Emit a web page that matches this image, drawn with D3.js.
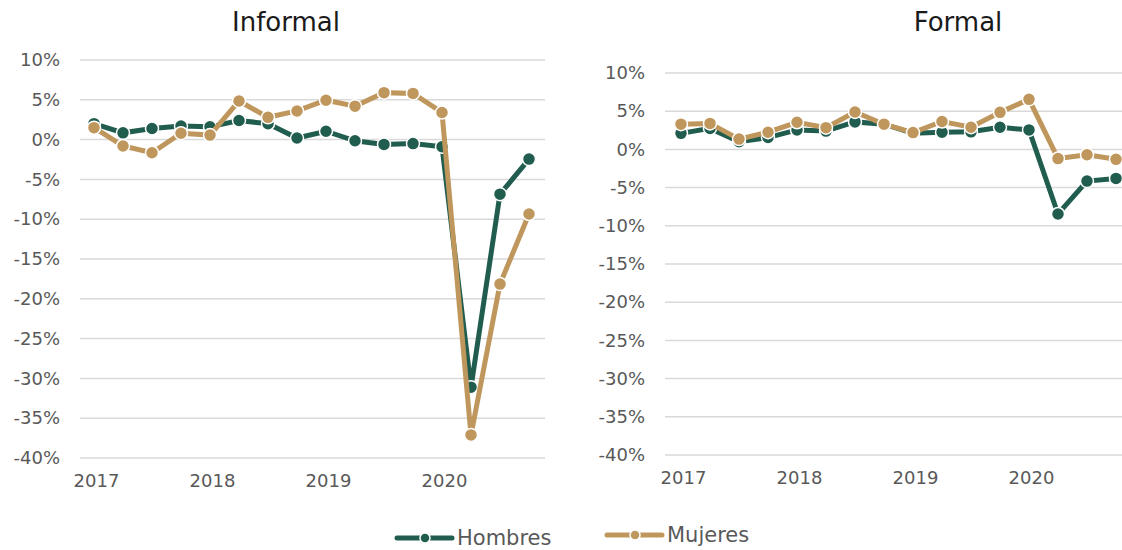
<html>
<head>
<script src="https://cdnjs.cloudflare.com/ajax/libs/d3/7.8.5/d3.min.js"></script>
<style>
  body { margin: 0; background: #fff; }
  text { font-family: "DejaVu Sans", sans-serif; }
</style>
</head>
<body>
<script>
// quarters 2017Q1 .. 2020Q4
var quarters = d3.range(16);
var yearLabels = ["2017", "2018", "2019", "2020"];
var yTicks = [10, 5, 0, -5, -10, -15, -20, -25, -30, -35, -40];
var seriesNames = ["Hombres", "Mujeres"];
var colors = ["#215d4e", "#bf975c"];

var informalHombres = [2.0, 0.85, 1.4, 1.7, 1.6, 2.4, 2.0, 0.2, 1.05, -0.15, -0.6, -0.5, -0.9, -31.1, -6.85, -2.45];
var informalMujeres = [1.5, -0.8, -1.65, 0.8, 0.57, 4.85, 2.8, 3.6, 4.95, 4.2, 5.9, 5.8, 3.4, -37.1, -18.15, -9.35];
var formalHombres = [2.1, 2.75, 1.0, 1.55, 2.55, 2.4, 3.6, 3.3, 2.1, 2.25, 2.3, 2.9, 2.55, -8.45, -4.15, -3.8];
var formalMujeres = [3.3, 3.4, 1.35, 2.25, 3.55, 2.85, 4.9, 3.3, 2.2, 3.65, 2.9, 4.85, 6.55, -1.2, -0.7, -1.3];

var svg = d3.select("body").append("svg")
  .attr("width", 1122)
  .attr("height", 550);

function panel(opts) {
  var x = d3.scaleLinear().domain([0, 15]).range([opts.x0, opts.x0 + 29 * 15]);
  var y = d3.scaleLinear().domain([-40, 10]).range([opts.yBottom, opts.yTop]);
  var g = svg.append("g");

  g.append("text")
    .attr("x", opts.titleX).attr("y", 31)
    .attr("text-anchor", "middle")
    .attr("font-size", 26)
    .attr("fill", "#1a1a1a")
    .text(opts.title);

  // gridlines
  g.selectAll(".grid").data(yTicks).enter().append("line")
    .attr("x1", opts.gridX1).attr("x2", opts.gridX2)
    .attr("y1", function(d) { return y(d); })
    .attr("y2", function(d) { return y(d); })
    .attr("stroke", "#d9d9d9")
    .attr("stroke-width", 1.5);

  // y axis labels
  var yAxis = d3.axisLeft(y).tickValues(yTicks).tickSize(0).tickPadding(0)
    .tickFormat(function(d) { return d + "%"; });
  var ya = g.append("g").attr("transform", "translate(" + opts.labelX + ",0)").call(yAxis);
  ya.select(".domain").remove();
  ya.selectAll("text").attr("font-size", 18).attr("fill", "#595959")
    .style("font-family", "'DejaVu Sans', sans-serif");

  // x axis labels
  var xAxis = d3.axisBottom(x).tickValues([0, 4, 8, 12]).tickSize(0).tickPadding(0)
    .tickFormat(function(d, i) { return yearLabels[i]; });
  var xa = g.append("g").attr("transform", "translate(2," + (opts.yBottom + 16) + ")").call(xAxis);
  xa.select(".domain").remove();
  xa.selectAll("text").attr("font-size", 18).attr("fill", "#595959")
    .style("font-family", "'DejaVu Sans', sans-serif");

  var line = d3.line()
    .x(function(d, i) { return x(i); })
    .y(function(d) { return y(d); });

  opts.series.forEach(function(s, k) {
    g.append("path")
      .attr("d", line(s))
      .attr("fill", "none")
      .attr("stroke", colors[k])
      .attr("stroke-width", 5);
    g.selectAll(".pt" + k).data(s).enter().append("circle")
      .attr("cx", function(d, i) { return x(i); })
      .attr("cy", function(d) { return y(d); })
      .attr("r", 6.5)
      .attr("fill", colors[k])
      .attr("stroke", "#fff")
      .attr("stroke-width", 1.5);
  });
}

panel({ title: "Informal", titleX: 286, x0: 94, yTop: 60, yBottom: 458,
        gridX1: 80, gridX2: 545, labelX: 60,
        series: [informalHombres, informalMujeres] });
panel({ title: "Formal", titleX: 958, x0: 681, yTop: 73, yBottom: 455,
        gridX1: 665, gridX2: 1122, labelX: 645,
        series: [formalHombres, formalMujeres] });

// legend
var legendPos = [{ x: 397, y: 538 }, { x: 607, y: 535 }];
seriesNames.forEach(function(name, k) {
  var p = legendPos[k];
  var lg = svg.append("g");
  lg.append("line")
    .attr("x1", p.x).attr("x2", p.x + 55)
    .attr("y1", p.y).attr("y2", p.y)
    .attr("stroke", colors[k]).attr("stroke-width", 5)
    .attr("stroke-linecap", "round");
  lg.append("circle")
    .attr("cx", p.x + 28).attr("cy", p.y).attr("r", 5)
    .attr("fill", colors[k]).attr("stroke", "#fff").attr("stroke-width", 1.5);
  lg.append("text")
    .attr("x", p.x + 60).attr("y", p.y + 7)
    .attr("font-size", 21).attr("fill", "#595959")
    .text(name);
});
</script>
</body>
</html>
